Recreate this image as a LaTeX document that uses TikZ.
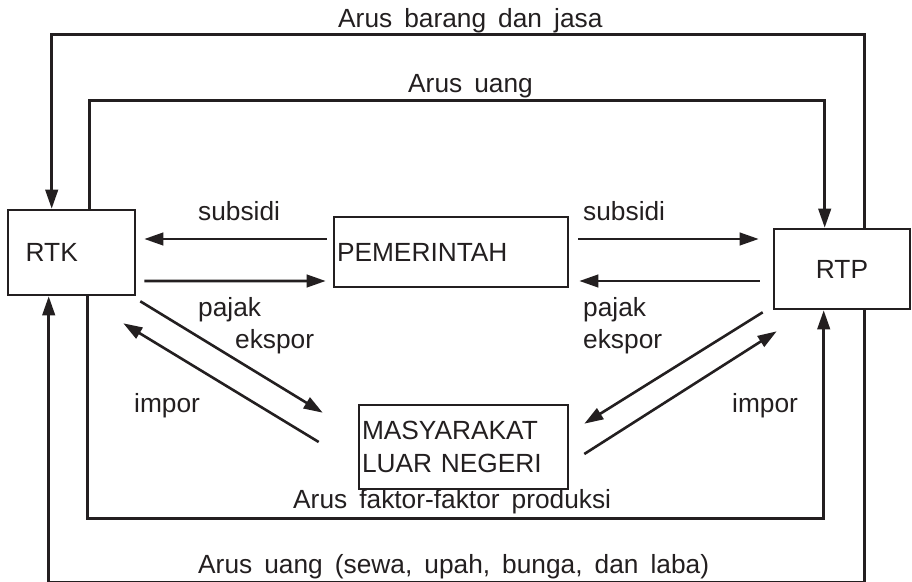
\documentclass[tikz,border=0pt]{standalone}
\usepackage{fontspec}
\setmainfont{Liberation Sans}[WordSpace=1.65]
\usetikzlibrary{arrows.meta,calc}
\definecolor{ink}{HTML}{231F20}
\begin{document}
\begin{tikzpicture}[x=1bp,y=-1bp,
  every node/.style={font=\fontsize{26.3bp}{33bp}\selectfont, text=ink, inner sep=0pt},
  box/.style={draw=ink, line width=2.6bp},
  flow/.style={draw=ink, line width=2.6bp, -{Triangle[length=19bp,width=12.5bp]}},
  lbl/.style={anchor=base west}]
\useasboundingbox (0,0) rectangle (912,582);
% boxes
\node[box, minimum height=85bp, text width=91.6bp, inner xsep=17.7bp, align=left] (rtk) at (71.5,252.5) {RTK};
\node[box, minimum width=136bp, minimum height=80bp] (rtp) at (842,269) {RTP};
\node[box, minimum height=70bp, text width=228bp, inner xsep=3bp, align=left] (pem) at (451,252) {PEMERINTAH};
\node[box, minimum height=84bp, text width=203bp, inner xsep=3bp, align=left] (mas) at (463.5,447) {MASYARAKAT\\LUAR NEGERI};
% labels
\node[lbl] (t1) at (338,28) {Arus barang dan jasa};
\node[lbl] (t2) at (408,93) {Arus uang};
\node[lbl] (t3) at (198,221) {subsidi};
\node[lbl] (t4) at (583,221) {subsidi};
\node[lbl] (t5) at (198,316) {pajak};
\node[lbl] (t6) at (235,348) {ekspor};
\node[lbl] (t7) at (134,412) {impor};
\node[lbl] (t8) at (583,316) {pajak};
\node[lbl] (t9) at (583,348) {ekspor};
\node[lbl] (t10) at (732,412) {impor};
\node[lbl] (t11) at (293,508) {Arus faktor-faktor produksi};
\node[lbl] (t12) at (198,573) {Arus uang (sewa, upah, bunga, dan laba)};
% outer loops
\draw[flow] ($(rtp.north west)+(92,0)$) -- ++(0,-193) -| ($(rtk.north west)+(45,0)$);
\draw[flow] ($(rtk.north west)+(83,0)$) -- ++(0,-108) -| ($(rtp.north west)+(52,0)$);
\draw[flow] ($(rtk.south west)+(81,0)$) -- ++(0,222) -| ($(rtp.south west)+(51,0)$);
\draw[flow] ($(rtp.south west)+(92,0)$) -- ++(0,272) -| ($(rtk.south west)+(42,0)$);
% government
\draw[flow] ($(pem.west)+(-6,-13)$) -- ($(rtk.east)+(8,-13.5)$);
\draw[flow] ($(rtk.east)+(8,28.5)$) -- ($(pem.west)+(-7,29)$);
\draw[flow] ($(pem.east)+(9,-13)$) -- ($(rtp.west)+(-14,-30)$);
\draw[flow] ($(rtp.west)+(-13,12)$) -- ($(pem.east)+(10,29)$);
% foreign
\draw[flow] ($(rtk.south east)+(4,5)$) -- ($(mas.north west)+(-35,9)$);
\draw[flow] ($(mas.west)+(-39,-5)$) -- ($(rtk.south east)+(-13,27)$);
\draw[flow] ($(rtp.south west)+(-10,2)$) -- ($(mas.north east)+(15,20)$);
\draw[flow] ($(mas.east)+(15,7)$) -- ($(rtp.south west)+(4,21)$);
\end{tikzpicture}
\end{document}
